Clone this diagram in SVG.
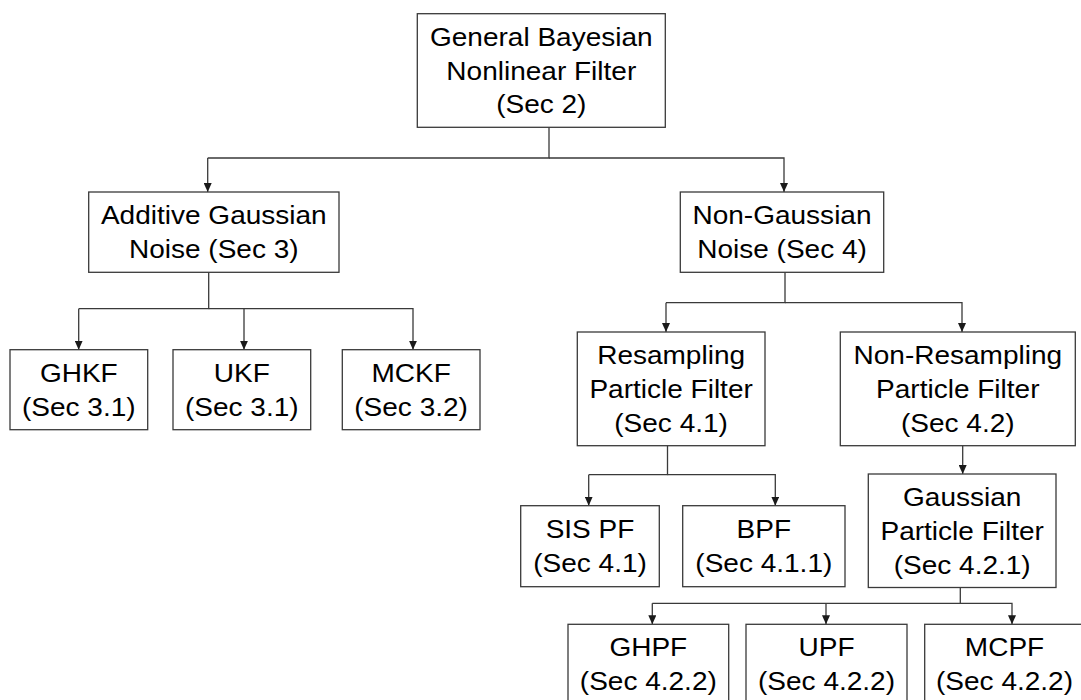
<svg xmlns="http://www.w3.org/2000/svg" width="1081" height="700" viewBox="0 0 1081 700">
<style>
.box{fill:#fff;stroke:#3a3a3a;stroke-width:1.3}
.t{font-family:"Liberation Sans",Arial,sans-serif;font-size:25.6px;fill:#000;text-anchor:middle}
.c{fill:none;stroke:#3a3a3a;stroke-width:1.3;marker-end:url(#ah)}
.cn{fill:none;stroke:#3a3a3a;stroke-width:1.3}
</style>
<defs>
<marker id="ah" markerUnits="userSpaceOnUse" markerWidth="9" markerHeight="8" refX="9" refY="4" orient="auto">
<path d="M0,0 L9,4 L0,8 z" fill="#1a1a1a"/>
</marker>
</defs>
<rect width="1081" height="700" fill="#fff"/>
<g id="connectors">
<path class="cn" d="M549,127.3 V158 H207.7"/>
<path class="c" d="M207.7,158 V192"/>
<path class="c" d="M549,158 H784 V192"/>
<path class="cn" d="M208.7,272.3 V308.7 H78.7"/>
<path class="c" d="M78.7,308.7 V349.7"/>
<path class="c" d="M208.7,308.7 H244 V349.7"/>
<path class="c" d="M244,308.7 H413 V349.7"/>
<path class="cn" d="M785,272.3 V302.7 H666"/>
<path class="c" d="M666,302.7 V332"/>
<path class="c" d="M785,302.7 H962 V332"/>
<path class="cn" d="M667.5,445.7 V474.7 H588.7"/>
<path class="c" d="M588.7,474.7 V505.7"/>
<path class="c" d="M667.5,474.7 H775.3 V505.7"/>
<path class="c" d="M962.7,445.7 V474"/>
<path class="cn" d="M960.3,587.5 V603.3 H652.3"/>
<path class="c" d="M652.3,603.3 V624.3"/>
<path class="c" d="M826,603.3 V624.3"/>
<path class="c" d="M960.3,603.3 H1012 V624.3"/>
</g>
<g id="gbnf">
<rect class="box" x="417.3" y="13.7" width="248" height="113.6"/>
<text class="t" transform="translate(541.3 0) scale(1.094 1)"><tspan x="0" y="45.7">General Bayesian</tspan><tspan x="0" y="79.7">Nonlinear Filter</tspan><tspan x="0" y="113.5">(Sec 2)</tspan></text>
</g>
<g id="agn">
<rect class="box" x="88.7" y="192" width="250.3" height="80.3"/>
<text class="t" transform="translate(213.8 0) scale(1.094 1)"><tspan x="0" y="224">Additive Gaussian</tspan><tspan x="0" y="258">Noise (Sec 3)</tspan></text>
</g>
<g id="ngn">
<rect class="box" x="680.3" y="192" width="203.4" height="80.3"/>
<text class="t" transform="translate(782 0) scale(1.094 1)"><tspan x="0" y="224">Non-Gaussian</tspan><tspan x="0" y="258">Noise (Sec 4)</tspan></text>
</g>
<g id="ghkf">
<rect class="box" x="10" y="349.7" width="137.7" height="80"/>
<text class="t" transform="translate(78.8 0) scale(1.094 1)"><tspan x="0" y="381.7">GHKF</tspan><tspan x="0" y="415.7">(Sec 3.1)</tspan></text>
</g>
<g id="ukf">
<rect class="box" x="173" y="349.7" width="137.7" height="80"/>
<text class="t" transform="translate(241.8 0) scale(1.094 1)"><tspan x="0" y="381.7">UKF</tspan><tspan x="0" y="415.7">(Sec 3.1)</tspan></text>
</g>
<g id="mckf">
<rect class="box" x="342.3" y="349.7" width="137.7" height="80"/>
<text class="t" transform="translate(411.1 0) scale(1.094 1)"><tspan x="0" y="381.7">MCKF</tspan><tspan x="0" y="415.7">(Sec 3.2)</tspan></text>
</g>
<g id="rpf">
<rect class="box" x="577.3" y="332" width="187.7" height="113.7"/>
<text class="t" transform="translate(671.1 0) scale(1.094 1)"><tspan x="0" y="364">Resampling</tspan><tspan x="0" y="398">Particle Filter</tspan><tspan x="0" y="431.8">(Sec 4.1)</tspan></text>
</g>
<g id="nrpf">
<rect class="box" x="840.3" y="332" width="235" height="113.7"/>
<text class="t" transform="translate(957.8 0) scale(1.094 1)"><tspan x="0" y="364">Non-Resampling</tspan><tspan x="0" y="398">Particle Filter</tspan><tspan x="0" y="431.8">(Sec 4.2)</tspan></text>
</g>
<g id="sispf">
<rect class="box" x="520.7" y="505.7" width="138.6" height="81"/>
<text class="t" transform="translate(590 0) scale(1.094 1)"><tspan x="0" y="537.7">SIS PF</tspan><tspan x="0" y="571.7">(Sec 4.1)</tspan></text>
</g>
<g id="bpf">
<rect class="box" x="682.7" y="505.7" width="162.3" height="81"/>
<text class="t" transform="translate(763.8 0) scale(1.094 1)"><tspan x="0" y="537.7">BPF</tspan><tspan x="0" y="571.7">(Sec 4.1.1)</tspan></text>
</g>
<g id="gpf">
<rect class="box" x="868.3" y="474" width="187.7" height="113.5"/>
<text class="t" transform="translate(962.2 0) scale(1.094 1)"><tspan x="0" y="506">Gaussian</tspan><tspan x="0" y="540">Particle Filter</tspan><tspan x="0" y="573.8">(Sec 4.2.1)</tspan></text>
</g>
<g id="ghpf">
<rect class="box" x="568" y="624.3" width="160.7" height="82"/>
<text class="t" transform="translate(648.3 0) scale(1.094 1)"><tspan x="0" y="656.3">GHPF</tspan><tspan x="0" y="690.3">(Sec 4.2.2)</tspan></text>
</g>
<g id="upf">
<rect class="box" x="746" y="624.3" width="161" height="82"/>
<text class="t" transform="translate(826.5 0) scale(1.094 1)"><tspan x="0" y="656.3">UPF</tspan><tspan x="0" y="690.3">(Sec 4.2.2)</tspan></text>
</g>
<g id="mcpf">
<rect class="box" x="924.7" y="624.3" width="160" height="82"/>
<text class="t" transform="translate(1004.5 0) scale(1.094 1)"><tspan x="0" y="656.3">MCPF</tspan><tspan x="0" y="690.3">(Sec 4.2.2)</tspan></text>
</g>
</svg>
